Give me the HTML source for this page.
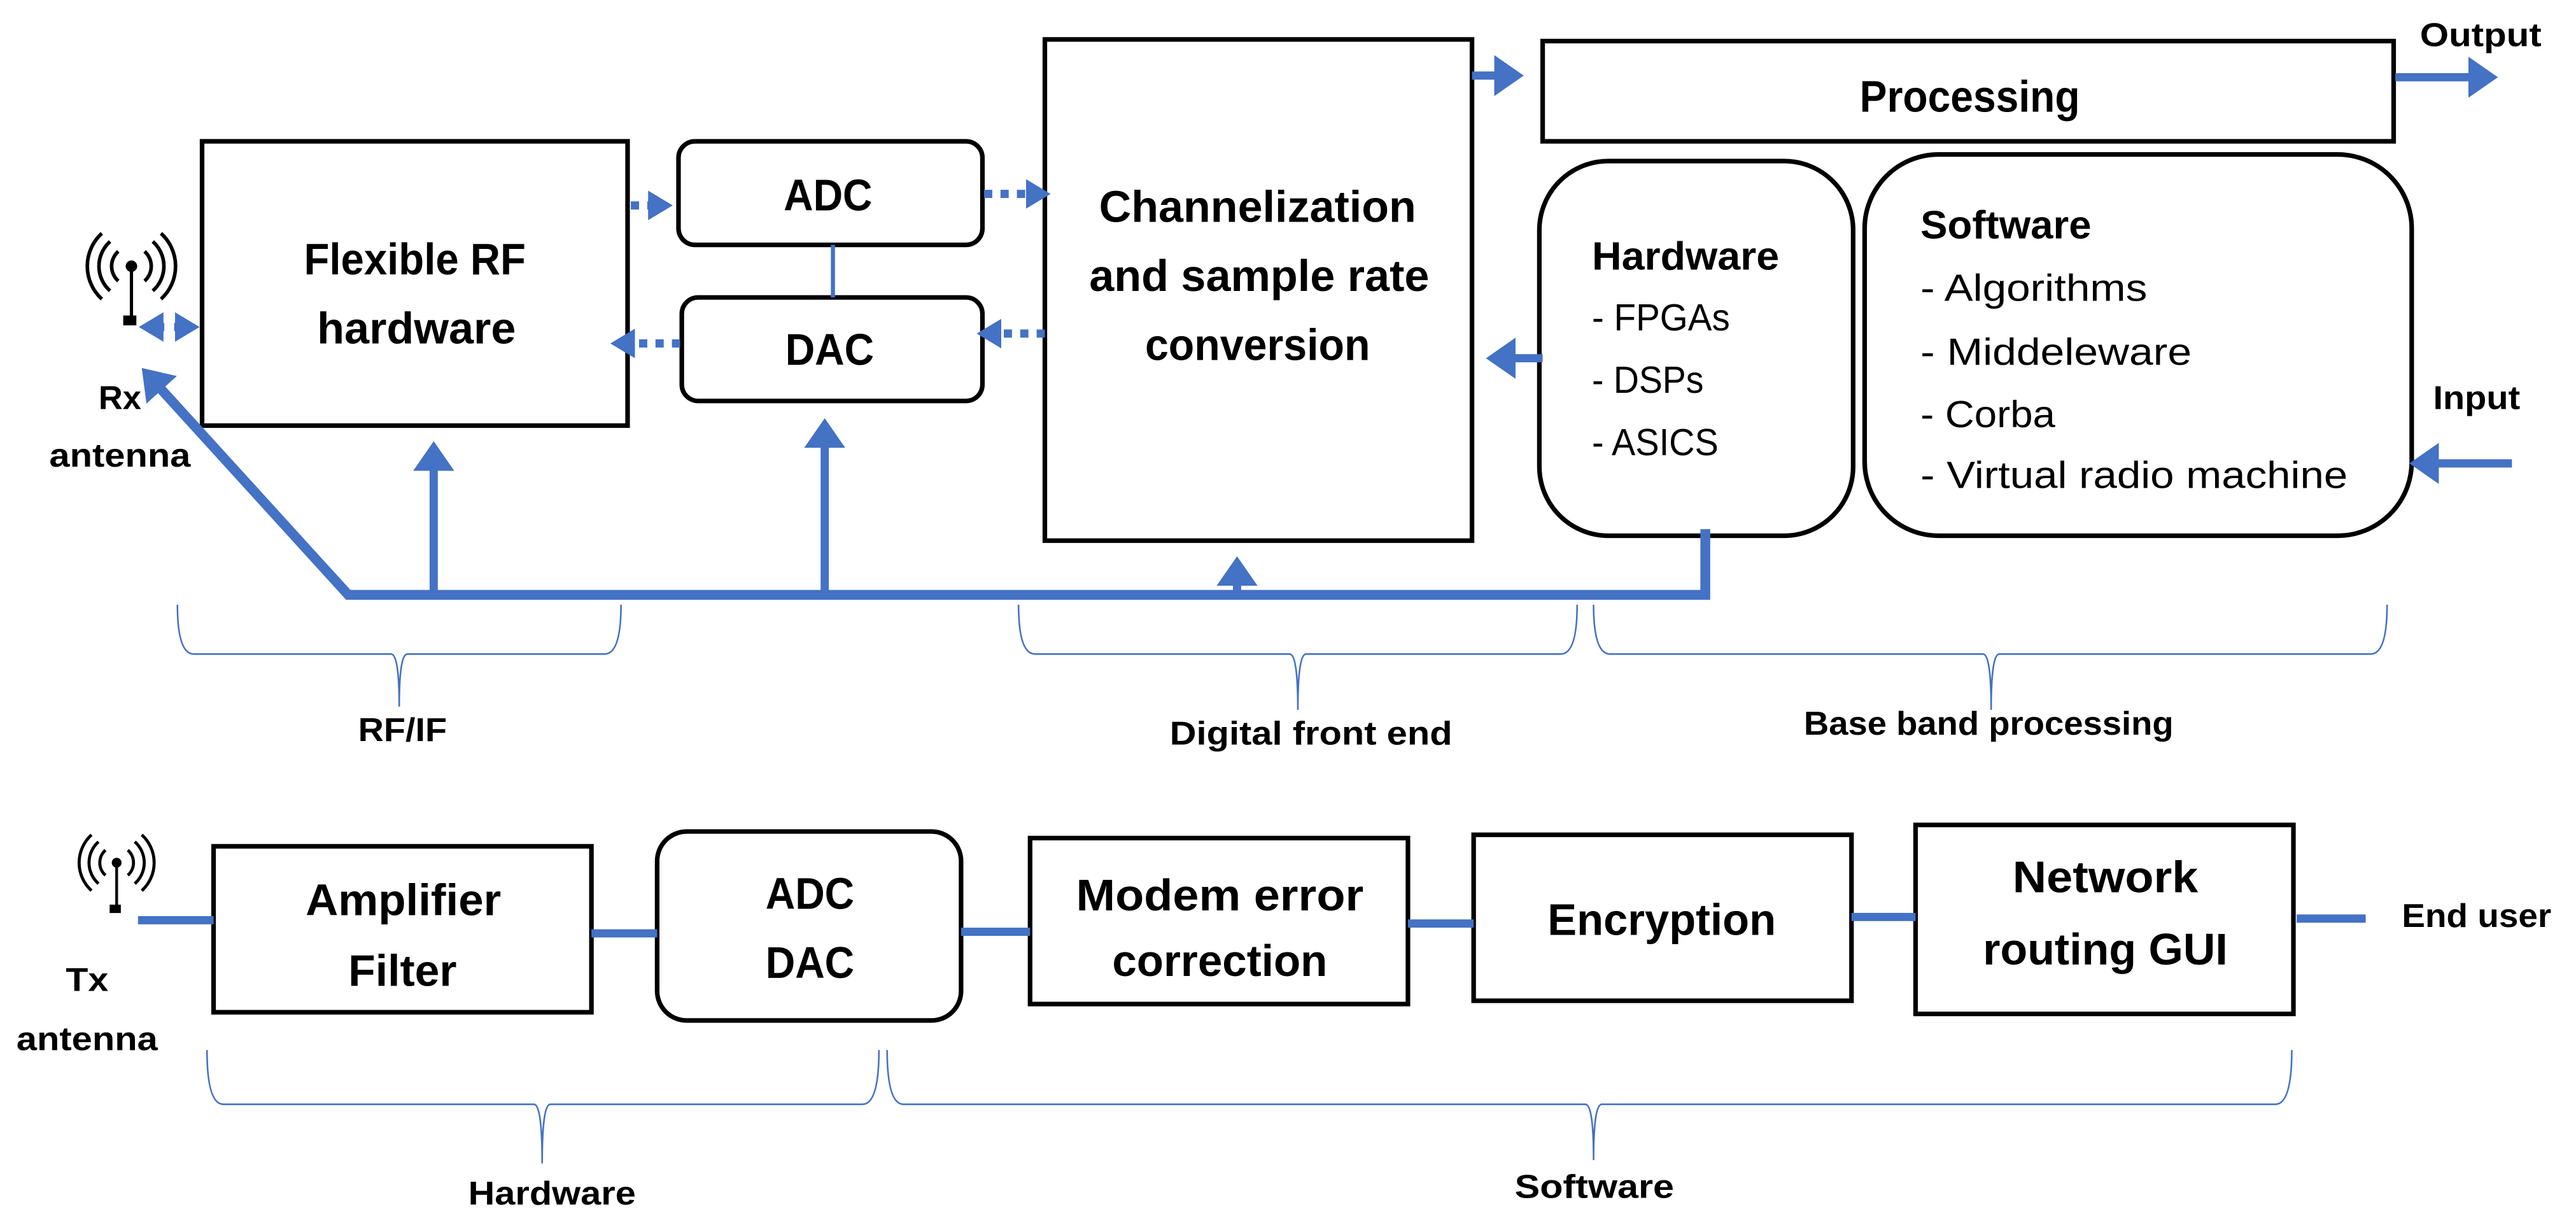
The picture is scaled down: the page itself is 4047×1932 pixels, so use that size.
<!DOCTYPE html>
<html><head><meta charset="utf-8"><style>html,body{margin:0;padding:0;background:#fff}svg{display:block}</style></head>
<body>
<svg width="4047" height="1932" viewBox="0 0 1568 748.5" preserveAspectRatio="none" xmlns="http://www.w3.org/2000/svg" font-family="Liberation Sans, sans-serif">
<defs>
<marker id="ah" markerWidth="6" markerHeight="6" refX="2.5" refY="2.5" orient="auto" markerUnits="strokeWidth"><path d="M0,0 L3.6,2.5 L0,5 z" fill="#4472C4"/></marker>
<marker id="ad" markerWidth="6" markerHeight="6" refX="1.5" refY="1.8" orient="auto" markerUnits="strokeWidth"><path d="M0,0 L3,1.8 L0,3.6 z" fill="#4472C4"/></marker>
<g id="ant">
<circle cx="0" cy="0" r="3.5" fill="#000"/>
<line x1="0" y1="0" x2="0" y2="32" stroke="#000" stroke-width="2"/>
<rect x="-5" y="30" width="8" height="6" fill="#000"/>
<path d="M-8,-9 A12,12 0 0,0 -8,9 M8,-9 A12,12 0 0,1 8,9 M-13,-15 A20,20 0 0,0 -13,15 M13,-15 A20,20 0 0,1 13,15 M-18,-20 A27,27 0 0,0 -18,20 M18,-20 A27,27 0 0,1 18,20" fill="none" stroke="#000" stroke-width="2.2"/>
</g>
</defs>
<g fill="none" stroke="#000" stroke-width="2.8">
<rect x="123" y="86" width="259" height="173"/>
<rect x="413" y="86" width="185" height="63" rx="10"/>
<rect x="415" y="181" width="183" height="63" rx="10"/>
<rect x="636" y="24" width="260" height="305"/>
<rect x="939" y="25" width="518" height="61"/>
<rect x="937" y="98" width="191" height="228" rx="42"/>
<rect x="1135" y="94" width="333" height="232" rx="45"/>
<rect x="130" y="515" width="230" height="101"/>
<rect x="400" y="506" width="185" height="115" rx="18"/>
<rect x="627" y="510" width="230" height="101"/>
<rect x="897" y="508" width="230" height="101"/>
<rect x="1166" y="502" width="230" height="115"/>
</g>
<g stroke="#4472C4" fill="none">
<line x1="507" y1="149" x2="507" y2="181" stroke-width="2.5"/>
<g stroke-width="5" stroke-dasharray="5,5">
<line x1="384" y1="125" x2="402" y2="125" marker-end="url(#ad)"/>
<line x1="599" y1="118" x2="632" y2="118" marker-end="url(#ad)"/>
<line x1="636" y1="203" x2="602" y2="203" marker-end="url(#ad)"/>
<line x1="414" y1="209" x2="379" y2="209" marker-end="url(#ad)"/>
<line x1="100" y1="199" x2="92" y2="199" marker-end="url(#ad)"/>
<line x1="106" y1="199" x2="114" y2="199" marker-end="url(#ad)"/>
</g>
<g stroke-width="5">
<line x1="896" y1="46" x2="922" y2="46" marker-end="url(#ah)"/>
<line x1="1458" y1="47" x2="1515" y2="47" marker-end="url(#ah)"/>
<line x1="939" y1="218" x2="910" y2="218" marker-end="url(#ah)"/>
<line x1="1529" y1="282" x2="1472" y2="282" marker-end="url(#ah)"/>
<line x1="264" y1="362" x2="264" y2="274" marker-end="url(#ah)"/>
<line x1="502" y1="362" x2="502" y2="260" marker-end="url(#ah)"/>
<line x1="753" y1="362" x2="753" y2="344" marker-end="url(#ah)"/>
<polyline points="1038,322 1038,362 212,362 90,228" stroke-width="6"/>
<line x1="100" y1="239" x2="90" y2="228" marker-end="url(#ah)"/>
<line x1="84" y1="560" x2="130" y2="560"/>
<line x1="360" y1="568" x2="400" y2="568"/>
<line x1="585" y1="567" x2="627" y2="567"/>
<line x1="857" y1="562" x2="897" y2="562"/>
<line x1="1127" y1="558" x2="1166" y2="558"/>
<line x1="1398" y1="559" x2="1440" y2="559"/>
</g>
<g stroke-width="1">
<path d="M108,368 Q108,398 118,398 L238,398 Q243,398 243,430 Q243,398 248,398 L368,398 Q378,398 378,368"/>
<path d="M620,368 Q620,398 630,398 L785,398 Q790,398 790,432 Q790,398 795,398 L950,398 Q960,398 960,368"/>
<path d="M970,368 Q970,398 980,398 L1207,398 Q1212,398 1212,432 Q1212,398 1217,398 L1443,398 Q1453,398 1453,368"/>
<path d="M126,639 Q126,672 136,672 L325,672 Q330,672 330,708 Q330,672 335,672 L525,672 Q535,672 535,639"/>
<path d="M540,639 Q540,672 550,672 L965,672 Q970,672 970,706 Q970,672 975,672 L1385,672 Q1395,672 1395,639"/>
</g>
</g>
<use href="#ant" x="80" y="162"/>
<use href="#ant" x="71" y="525" transform="translate(71,525) scale(0.85) translate(-71,-525)"/>
<g font-weight="bold" fill="#000" font-size="27">
<text x="185" y="167" textLength="135" lengthAdjust="spacingAndGlyphs">Flexible RF</text>
<text x="193" y="209" textLength="121" lengthAdjust="spacingAndGlyphs">hardware</text>
<text x="477" y="128" textLength="54" lengthAdjust="spacingAndGlyphs">ADC</text>
<text x="478" y="222" textLength="54" lengthAdjust="spacingAndGlyphs">DAC</text>
<text x="669" y="135" textLength="193" lengthAdjust="spacingAndGlyphs">Channelization</text>
<text x="663" y="177" textLength="207" lengthAdjust="spacingAndGlyphs">and sample rate</text>
<text x="697" y="219" textLength="137" lengthAdjust="spacingAndGlyphs">conversion</text>
<text x="1132" y="68" textLength="134" lengthAdjust="spacingAndGlyphs">Processing</text>
<text x="969" y="164" textLength="114" lengthAdjust="spacingAndGlyphs" font-size="24">Hardware</text>
<text x="1169" y="145" textLength="104" lengthAdjust="spacingAndGlyphs" font-size="24">Software</text>
<text x="186" y="557" textLength="119" lengthAdjust="spacingAndGlyphs">Amplifier</text>
<text x="212" y="600" textLength="66" lengthAdjust="spacingAndGlyphs">Filter</text>
<text x="466" y="553" textLength="54" lengthAdjust="spacingAndGlyphs">ADC</text>
<text x="466" y="595" textLength="54" lengthAdjust="spacingAndGlyphs">DAC</text>
<text x="655" y="554" textLength="175" lengthAdjust="spacingAndGlyphs">Modem error</text>
<text x="677" y="594" textLength="131" lengthAdjust="spacingAndGlyphs">correction</text>
<text x="942" y="569" textLength="139" lengthAdjust="spacingAndGlyphs">Encryption</text>
<text x="1225" y="543" textLength="113" lengthAdjust="spacingAndGlyphs">Network</text>
<text x="1207" y="587" textLength="149" lengthAdjust="spacingAndGlyphs">routing GUI</text>
<g font-size="20">
<text x="1473" y="28" textLength="74" lengthAdjust="spacingAndGlyphs">Output</text>
<text x="1481" y="249" textLength="53" lengthAdjust="spacingAndGlyphs">Input</text>
<text x="60" y="249" textLength="26" lengthAdjust="spacingAndGlyphs">Rx</text>
<text x="30" y="284" textLength="86" lengthAdjust="spacingAndGlyphs">antenna</text>
<text x="218" y="451" textLength="54" lengthAdjust="spacingAndGlyphs">RF/IF</text>
<text x="712" y="453" textLength="172" lengthAdjust="spacingAndGlyphs">Digital front end</text>
<text x="1098" y="447" textLength="225" lengthAdjust="spacingAndGlyphs">Base band processing</text>
<text x="40" y="603" textLength="26" lengthAdjust="spacingAndGlyphs">Tx</text>
<text x="10" y="639" textLength="86" lengthAdjust="spacingAndGlyphs">antenna</text>
<text x="1462" y="564" textLength="91" lengthAdjust="spacingAndGlyphs">End user</text>
<text x="285" y="733" textLength="102" lengthAdjust="spacingAndGlyphs">Hardware</text>
<text x="922" y="729" textLength="97" lengthAdjust="spacingAndGlyphs">Software</text>
</g>
</g>
<g fill="#000" font-size="23">
<text x="969" y="201" textLength="84" lengthAdjust="spacingAndGlyphs">- FPGAs</text>
<text x="969" y="239" textLength="68" lengthAdjust="spacingAndGlyphs">- DSPs</text>
<text x="969" y="277" textLength="77" lengthAdjust="spacingAndGlyphs">- ASICS</text>
<text x="1169" y="183" textLength="138" lengthAdjust="spacingAndGlyphs">- Algorithms</text>
<text x="1169" y="222" textLength="165" lengthAdjust="spacingAndGlyphs">- Middeleware</text>
<text x="1169" y="260" textLength="82" lengthAdjust="spacingAndGlyphs">- Corba</text>
<text x="1169" y="297" textLength="260" lengthAdjust="spacingAndGlyphs">- Virtual radio machine</text>
</g>
</svg>
</body></html>
